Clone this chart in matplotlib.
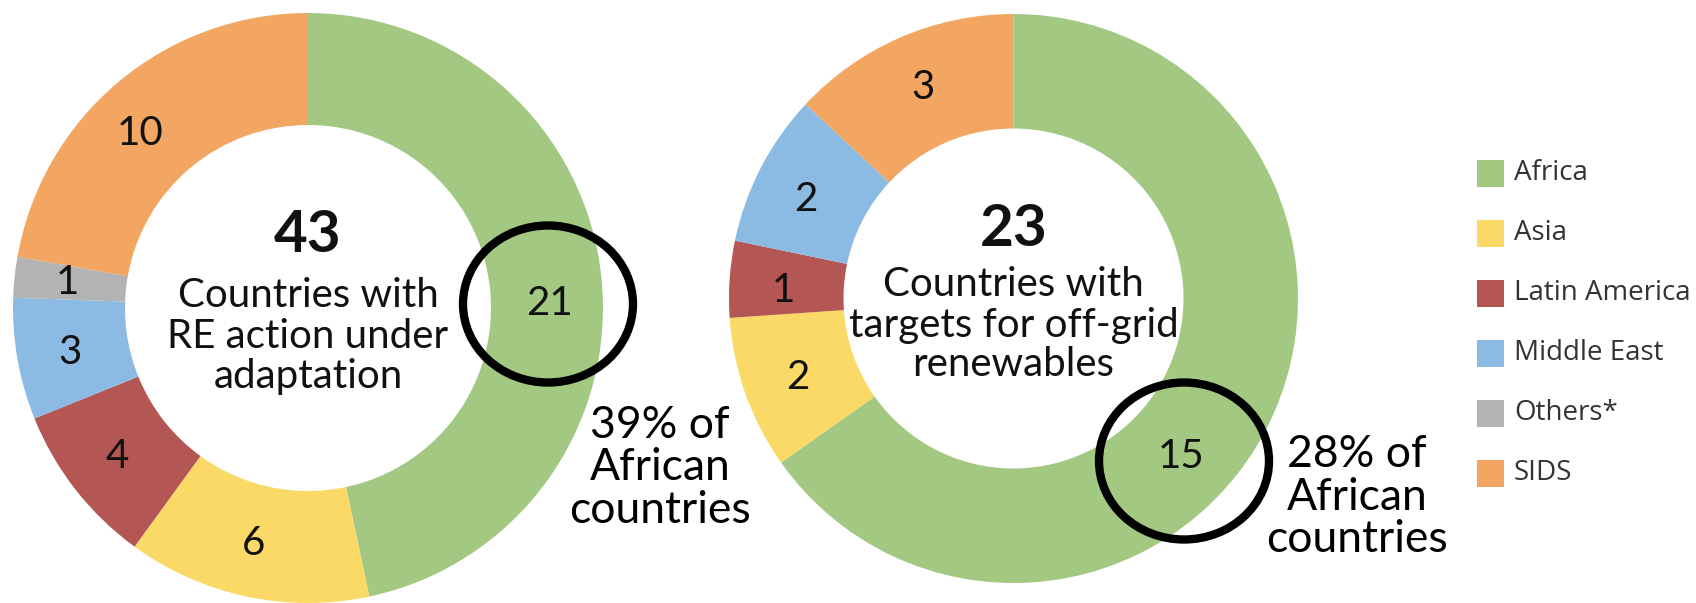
import numpy as np
import matplotlib.pyplot as plt
from matplotlib.patches import Ellipse, Rectangle

plt.rcParams['font.family'] = ['Lato', 'DejaVu Sans']

regions = ['Africa', 'Asia', 'Latin America', 'Middle East', 'Others*', 'SIDS']
colors = ['#a3c882', '#fbd966', '#b45653', '#8bbbe3', '#b3b3b3', '#f2a662']

# left donut: RE action under adaptation
adapt_values = [21, 6, 4, 3, 1, 10]
adapt_total = 43
# right donut: targets for off-grid renewables
offgrid_values = [15, 2, 1, 2, 0, 3]
offgrid_total = 23

W, H = 1696, 603
fig = plt.figure(figsize=(W / 100, H / 100), dpi=100)
ax = fig.add_axes([0, 0, 1, 1])
ax.set_xlim(0, W)
ax.set_ylim(0, H)
ax.set_aspect('equal')
ax.axis('off')


def donut(values, center, r_out, r_in, label_ang, label_r):
    vals = [v for v in values if v > 0]
    cols = [c for v, c in zip(values, colors) if v > 0]
    ax.pie(vals, colors=cols, startangle=90, counterclock=False,
           center=center, radius=r_out, frame=True,
           wedgeprops=dict(width=r_out - r_in, linewidth=0))
    labs = [str(v) for v in values if v > 0]
    for lab, a in zip(labs, label_ang):
        x = center[0] + label_r * np.cos(np.radians(a))
        y = center[1] + label_r * np.sin(np.radians(a))
        ax.text(x, y, lab, ha='center', va='center', fontsize=29,
                fontweight='normal', color='#111111')


# left donut
donut(adapt_values, (308, H - 308), 295, 183,
      [1, -103, -142, -169.5, 174, 134], 242)
ax.text(308, H - 236, str(adapt_total), ha='center', va='center',
        fontsize=42, fontweight='bold', color='#111111')
ax.text(308, H - 336, 'Countries with\nRE action under\nadaptation',
        ha='center', va='center', fontsize=29, linespacing=1.13,
        color='#111111')

# right donut
donut(offgrid_values, (1013.5, H - 298.5), 284.5, 170,
      [-43.4, 200, 178, 154.6, 113.2], 230)
ax.text(1013.5, H - 229, str(offgrid_total), ha='center', va='center',
        fontsize=42, fontweight='bold', color='#111111')
ax.text(1013.5, H - 325, 'Countries with\ntargets for off-grid\nrenewables',
        ha='center', va='center', fontsize=29, linespacing=1.1,
        color='#111111')

# highlight circles
for cx, cy in [(548, 304), (1184, 461)]:
    ax.add_patch(Ellipse((cx, H - cy), 170, 157, fill=False,
                         edgecolor='black', linewidth=6, zorder=5))

ax.text(660, H - 468, '39% of\nAfrican\ncountries', ha='center', va='center',
        fontsize=32, linespacing=1.05, color='black')
ax.text(1357, H - 497, '28% of\nAfrican\ncountries', ha='center', va='center',
        fontsize=32, linespacing=1.05, color='black')

# legend
for i, (name, col) in enumerate(zip(regions, colors)):
    yc = H - (173 + i * 60)
    ax.add_patch(Rectangle((1477, yc - 13.5), 27, 27, facecolor=col,
                           edgecolor='none'))
    ax.text(1514, yc, name, ha='left', va='center', fontsize=20,
            family=['Open Sans', 'DejaVu Sans'], color='#333333')

fig.savefig('out.png', dpi=100)
